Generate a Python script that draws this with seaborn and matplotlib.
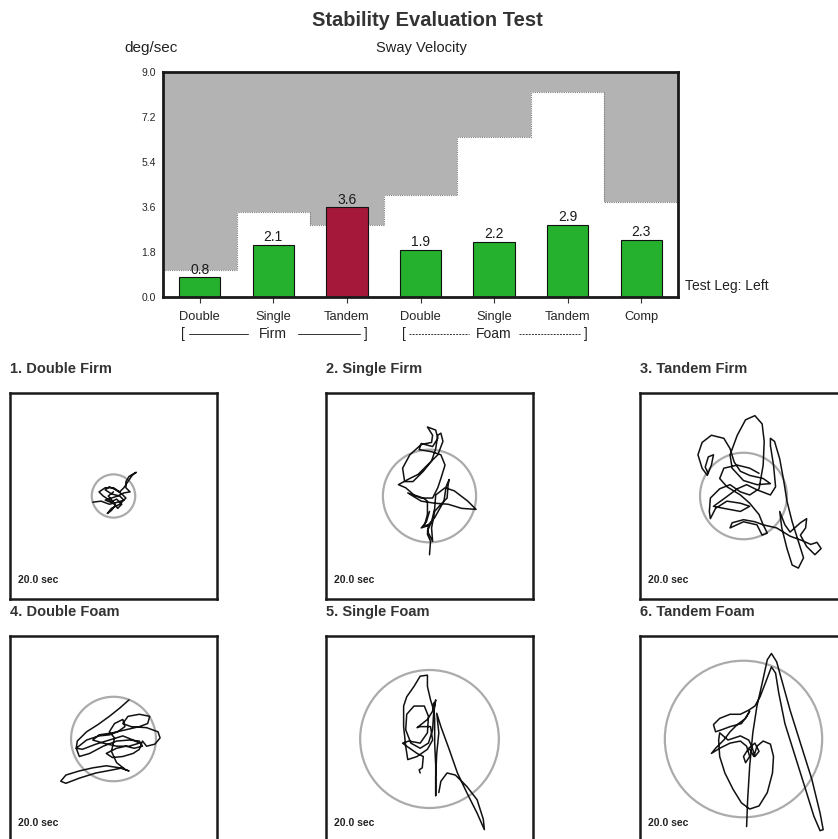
import numpy as np
import pandas as pd
import matplotlib
matplotlib.use("Agg")
import matplotlib.pyplot as plt
from matplotlib.patches import Circle
import seaborn as sns

# ---------------- data ----------------
tests = ["Double Firm", "Single Firm", "Tandem Firm",
         "Double Foam", "Single Foam", "Tandem Foam", "Comp"]
tick_labels = ["Double", "Single", "Tandem", "Double", "Single", "Tandem", "Comp"]
sway_velocity = [0.8, 2.1, 3.6, 1.9, 2.2, 2.9, 2.3]
normal_limit = [1.1, 3.4, 2.9, 4.1, 6.4, 8.2, 3.8]
bar_colors = ["#25b02d", "#25b02d", "#a6183a", "#25b02d", "#25b02d", "#25b02d", "#25b02d"]
y_ticks = [0.0, 1.8, 3.6, 5.4, 7.2, 9.0]

panel_titles = ["1. Double Firm", "2. Single Firm", "3. Tandem Firm",
                "4. Double Foam", "5. Single Foam", "6. Tandem Foam"]
limit_radius = [21, 45, 42, 41, 67, 76]

trace_1 = [(-20, -6), (-12, -5), (-4, -8), (4, -6), (10, -4), (6, 0), (-2, 2), (-8, 6), (-4, 9),
           (2, 6), (8, 2), (12, -2), (6, -8), (-2, -12), (-6, -17), (-2, -14), (2, -9), (-4, -4),
           (-10, 0), (-14, 4), (-8, 8), (0, 8), (6, 4), (10, 8), (14, 14), (18, 20), (22, 23),
           (20, 22), (15, 19), (12, 14), (12, 8), (16, 4), (10, 3), (4, 0), (-2, -2), (-8, -4),
           (-3, -6), (3, -3), (8, -8), (4, -12), (0, -6), (-5, 0), (0, 4)]
trace_2 = [(0, -57), (1, -44), (-2, -37), (-1, -28), (-5, -29), (-2, -18), (-2, -5), (-6, -2),
           (-15, 1), (-23, 8), (-30, 11), (-21, 16), (-11, 21), (-2, 30), (8, 40), (13, 53),
           (11, 61), (8, 59), (6, 46), (2, 34), (-6, 24), (-16, 14), (-24, 14), (-26, 27),
           (-19, 40), (-8, 50), (2, 52), (3, 59), (-2, 67), (6, 64), (8, 56), (3, 48), (-8, 51),
           (-10, 45), (2, 43), (11, 40), (15, 30), (11, 17), (8, 8), (3, -2), (-8, -2), (-21, 3),
           (-8, -5), (5, -7), (18, -8), (31, -12), (45, -13), (37, -5), (24, 5), (15, 8), (6, 1),
           (5, -12), (2, -25), (-2, -34), (3, -44), (2, -31), (5, -15), (11, -8), (17, -2),
           (18, 11), (19, 16), (16, 9), (14, -5), (10, -12), (5, -21), (-2, -29), (-8, -31),
           (-3, -25), (0, -15)]
trace_3 = [(-34, 22), (-37, 28), (-34, 38), (-29, 40), (-31, 30), (-35, 20), (-40, 27), (-44, 40),
           (-40, 52), (-31, 59), (-19, 56), (-13, 46), (-9, 33), (-3, 24), (6, 20), (19, 17),
           (26, 12), (13, 11), (0, 15), (-11, 27), (-13, 40), (-6, 59), (2, 74), (11, 78), (18, 70),
           (20, 53), (19, 30), (15, 7), (6, 1), (-3, 4), (-13, 11), (-23, 7), (-32, -2), (-33, -15),
           (-32, -22), (-27, -12), (-16, -5), (-3, -7), (6, -10), (-3, -15), (-19, -12), (-29, -10),
           (-18, -2), (-6, 7), (3, 11), (13, 6), (26, 1), (31, 9), (29, 30), (26, 49), (26, 56),
           (30, 53), (35, 36), (39, 14), (42, -5), (47, -25), (53, -44), (58, -60), (53, -70),
           (47, -67), (42, -51), (37, -31), (35, -15), (40, -28), (45, -35), (55, -26), (61, -22),
           (60, -31), (55, -38), (61, -49), (69, -57), (75, -51), (71, -45), (65, -47), (56, -43),
           (45, -39), (32, -31), (19, -28), (11, -25), (0, -23), (-11, -26), (-13, -31), (0, -25),
           (13, -28), (18, -38), (23, -36), (19, -28), (15, -18), (6, -7), (-3, 1), (-16, 9),
           (-23, 17), (-19, 27), (-6, 30), (6, 27), (15, 22)]
trace_4 = [(15, 38), (6, 30), (-4, 22), (-15, 14), (-26, 7), (-35, -2), (-36, -9), (-30, -10),
           (-17, -5), (-4, -1), (9, 3), (19, -1), (25, -4), (15, -7), (3, -7), (-10, -4), (-20, -1),
           (-14, 4), (-1, 6), (12, 9), (25, 12), (33, 15), (35, 22), (25, 24), (14, 22), (9, 15),
           (17, 12), (32, 11), (43, 7), (45, 1), (40, -5), (32, -7), (28, -2), (25, -10), (19, -14),
           (9, -17), (-1, -18), (-7, -14), (3, -9), (12, -7), (20, -9), (28, -7), (25, -2), (15, -1),
           (3, -2), (-10, -7), (-23, -14), (-33, -17), (-36, -9), (-26, -1), (-14, 3), (-4, 4),
           (4, 7), (11, 12), (9, 19), (1, 15), (-4, 7), (1, 1), (-2, -12), (3, -23), (12, -30),
           (15, -31), (6, -28), (-7, -26), (-20, -28), (-33, -31), (-46, -35), (-51, -41),
           (-46, -43), (-33, -38), (-17, -33), (-1, -30), (9, -28)]
trace_5 = [(-9, -33), (-10, -30), (-7, -28), (-6, -17), (-12, -14), (-22, -7), (-26, -4), (-20, -2),
           (-9, -4), (-2, 6), (-1, 22), (-5, 32), (-15, 32), (-22, 24), (-23, 9), (-18, -4),
           (-9, -9), (-1, -4), (3, 9), (4, 25), (6, 38), (4, 28), (1, 38), (-2, 51), (-2, 62),
           (-9, 61), (-15, 51), (-22, 41), (-25, 32), (-25, 12), (-23, -7), (-21, -20), (-12, -17),
           (-2, -10), (3, -1), (1, 12), (-9, 12), (-12, 11), (-2, 19), (3, 27), (4, 35), (5, 19),
           (5, -4), (6, -26), (6, -55), (6, -36), (7, -14), (9, 6), (7, 25), (11, 12), (19, -10),
           (27, -33), (36, -52), (46, -72), (53, -88), (52, -78), (46, -59), (36, -46), (25, -35),
           (17, -33), (11, -41), (9, -52)]
trace_6 = [(3, -85), (4, -59), (6, -26), (9, 6), (13, 32), (18, 54), (23, 77), (27, 83), (32, 75),
           (37, 57), (45, 28), (55, -4), (66, -39), (74, -72), (77, -88), (74, -89), (68, -75),
           (60, -49), (50, -17), (40, 15), (34, 45), (31, 64), (27, 70), (21, 54), (16, 41),
           (11, 32), (5, 28), (-3, 24), (-13, 24), (-23, 20), (-29, 14), (-27, 7), (-21, 9),
           (-13, 12), (-2, 15), (3, 22), (6, 27), (2, 20), (-6, 14), (-13, 7), (-19, -1), (-27, -9),
           (-31, -14), (-23, -9), (-13, -4), (-3, -2), (3, -7), (6, -17), (2, -23), (0, -17),
           (5, -9), (11, -4), (15, -12), (11, -17), (8, -7), (5, -1), (-3, 3), (-15, -1), (-23, 6),
           (-24, -1), (-23, -17), (-18, -33), (-10, -49), (-2, -62), (6, -68), (15, -65),
           (23, -52), (28, -33), (29, -17), (26, -5), (19, -2), (13, -7), (10, -17), (6, -10)]
traces = [trace_1, trace_2, trace_3, trace_4, trace_5, trace_6]

# ---------------- style ----------------
sns.set_theme(style="white")
plt.rcParams["font.family"] = ["Liberation Sans", "DejaVu Sans"]
plt.rcParams["text.color"] = "#222222"

W, H = 838, 839
fig = plt.figure(figsize=(W / 100, H / 100), dpi=100)
fig.patch.set_facecolor("white")


def fx(px):
    return px / W


def fy(py):
    return 1 - py / H


# ---------------- sway velocity bar chart ----------------
ax = fig.add_axes([fx(163), fy(297), fx(678) - fx(163), fy(72) - fy(297)])
pos = np.arange(len(tests))

# shaded area above the normal limit of each test
ax.bar(pos, [9.0 - v for v in normal_limit], bottom=normal_limit, width=1.0,
       color="#b3b3b3", linewidth=0, zorder=0.5)
ax.stairs(normal_limit, np.arange(len(tests) + 1) - 0.5, color="#7a7a7a",
          linestyle=(0, (1, 1)), linewidth=0.8, zorder=0.6)

df = pd.DataFrame({"test": tests, "velocity": sway_velocity})
sns.barplot(data=df, x="test", y="velocity", hue="test", order=tests, hue_order=tests,
            palette=bar_colors, saturation=1, width=0.56, edgecolor="#111111",
            linewidth=0.8, legend=False, ax=ax, zorder=2)

for i, v in enumerate(sway_velocity):
    ax.text(i, v + 0.02, f"{v:.1f}", ha="center", va="bottom", fontsize=10,
            color="#1a1a1a", zorder=3)

ax.set_xlim(-0.5, len(tests) - 0.5)
ax.set_ylim(0, 9.0)
ax.set_yticks(y_ticks)
ax.set_yticklabels([f"{t:.1f}" for t in y_ticks], fontsize=7.5)
ax.set_xticks(pos)
ax.set_xticklabels(tick_labels, fontsize=9.3)
ax.set_xlabel("")
ax.set_ylabel("")
ax.tick_params(axis="x", direction="out", length=4, width=0.8, color="#333333", pad=6,
               bottom=True)
ax.tick_params(axis="y", length=0, pad=5)
for s in ax.spines.values():
    s.set_visible(True)
    s.set_color("#1a1a1a")
    s.set_linewidth(2.0)

ax.text(1.014, 0.05, "Test Leg: Left", transform=ax.transAxes, ha="left", va="center",
        fontsize=10)

# surface group brackets under the categories
trans = matplotlib.transforms.blended_transform_factory(ax.transData, ax.transAxes)
yb = -0.165
groups = [(-0.25, 2.28, 1.0, "Firm", "-"), (2.75, 5.27, 4.0, "Foam", (0, (2, 1.2)))]
for x0, x1, xm, name, ls in groups:
    ax.text(x0, yb, "[", transform=trans, ha="left", va="center", fontsize=10, clip_on=False)
    ax.text(x1, yb, "]", transform=trans, ha="right", va="center", fontsize=10, clip_on=False)
    ax.text(xm, yb, name, transform=trans, ha="center", va="center", fontsize=10,
            clip_on=False)
    ax.plot([x0 + 0.1, xm - 0.34], [yb, yb], transform=trans, color="#333333", lw=0.7,
            ls=ls, clip_on=False)
    ax.plot([xm + 0.34, x1 - 0.1], [yb, yb], transform=trans, color="#333333", lw=0.7,
            ls=ls, clip_on=False)

# ---------------- headings ----------------
fig.text(fx(427), fy(20), "Stability Evaluation Test", ha="center", va="center",
         fontsize=14.5, weight="bold", color="#333333")
fig.text(fx(124), fy(48), "deg/sec", ha="left", va="center", fontsize=11)
fig.text(fx(421), fy(48), "Sway Velocity", ha="center", va="center", fontsize=10.5)

# ---------------- sway path panels ----------------
col_left = [10, 326, 640]
row_top = [393, 636]
box_w, box_h = 207, 206
for k in range(6):
    r, c = divmod(k, 3)
    left, top = col_left[c], row_top[r]
    pax = fig.add_axes([fx(left), fy(top + box_h), box_w / W, box_h / H])
    pax.set_xlim(-100, 100)
    pax.set_ylim(-100, 100)
    pax.set_xticks([])
    pax.set_yticks([])
    for s in pax.spines.values():
        s.set_visible(True)
        s.set_color("#1a1a1a")
        s.set_linewidth(1.8)
    pax.add_patch(Circle((0, 0), limit_radius[k], fill=False, edgecolor="#ababab",
                         linewidth=1.6, zorder=1))
    tr = pd.DataFrame(traces[k], columns=["x", "y"])
    sns.lineplot(data=tr, x="x", y="y", sort=False, estimator=None, color="#111111",
                 linewidth=1.1, solid_joinstyle="round", solid_capstyle="round",
                 ax=pax, zorder=2)
    pax.set_xlabel("")
    pax.set_ylabel("")
    pax.text(0.04, 0.09, "20.0 sec", transform=pax.transAxes, ha="left", va="center",
             fontsize=7.5, weight="bold", color="#222222")
    pax.text(0.0, 1.118, panel_titles[k], transform=pax.transAxes, ha="left",
             va="center", fontsize=10.5, weight="bold", color="#333333")

fig.savefig("out.png", dpi=100, facecolor="white")
